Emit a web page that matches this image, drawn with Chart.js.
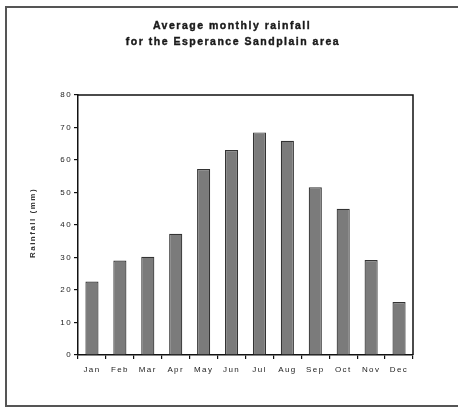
<!DOCTYPE html>
<html><head><meta charset="utf-8">
<script src="https://cdn.jsdelivr.net/npm/chart.js@4"></script>
<style>html,body{margin:0;padding:0;background:#fff;}canvas{display:block;}</style>
</head><body>
<canvas id="c" width="458" height="408"></canvas>
<script>
const months = ["Jan","Feb","Mar","Apr","May","Jun","Jul","Aug","Sep","Oct","Nov","Dec"];
const rainfall = [22.6, 29.1, 30.2, 37.3, 57.2, 63.1, 68.5, 65.9, 51.6, 45.0, 29.2, 16.3];
const titleLines = ["Average monthly rainfall", "for the Esperance Sandplain area"];
const yTitle = "Rainfall (mm)";
const yMin = 0, yMax = 80, yStep = 10;

const decor = {
  id: 'decor',
  beforeDraw(chart) {
    const ctx = chart.ctx;
    ctx.save();
    ctx.fillStyle = '#fff';
    ctx.fillRect(0, 0, chart.width, chart.height);
    ctx.strokeStyle = '#555';
    ctx.lineWidth = 2;
    ctx.beginPath();
    ctx.moveTo(470, 7); ctx.lineTo(6, 7); ctx.lineTo(6, 406); ctx.lineTo(470, 406);
    ctx.stroke();
    ctx.fillStyle = '#1a1a1a';
    ctx.strokeStyle = '#1a1a1a';
    ctx.lineWidth = 0.4;
    ctx.textAlign = 'center';
    ctx.textBaseline = 'middle';
    ctx.font = 'bold 10.5px "Liberation Sans", Arial, sans-serif';
    ctx.letterSpacing = '1.5px';
    ctx.fillText(titleLines[0], 232, 26.5);
    ctx.strokeText(titleLines[0], 232, 26.5);
    ctx.fillText(titleLines[1], 233, 42);
    ctx.strokeText(titleLines[1], 233, 42);
    ctx.translate(32.5, 223);
    ctx.rotate(-Math.PI / 2);
    ctx.font = 'bold 8px "Liberation Sans", Arial, sans-serif';
    ctx.fillStyle = '#333';
    ctx.fillText(yTitle, 0, 0);
    ctx.restore();
    ctx.letterSpacing = '1.4px';
  },
  afterDatasetsDraw(chart) {
    const a = chart.chartArea, ctx = chart.ctx;
    ctx.save();
    ctx.strokeStyle = '#111';
    ctx.lineWidth = 1.5;
    ctx.beginPath();
    ctx.moveTo(a.left, a.top); ctx.lineTo(a.right, a.top); ctx.lineTo(a.right, a.bottom);
    ctx.stroke();
    ctx.restore();
  }
};

const tickFont = { family: '"Liberation Sans", Arial, sans-serif', size: 8 };

new Chart(document.getElementById('c'), {
  type: 'bar',
  data: {
    labels: months,
    datasets: [{
      data: rainfall,
      backgroundColor: '#7b7b7b',
      borderColor: '#333333',
      borderWidth: 1.2,
      barPercentage: 0.94,
      categoryPercentage: 0.5
    }]
  },
  options: {
    responsive: false,
    animation: false,
    devicePixelRatio: 1,
    layout: { padding: { left: 0, right: 45, top: 95, bottom: 27 } },
    plugins: { legend: { display: false }, title: { display: false }, tooltip: { enabled: false } },
    scales: {
      x: {
        grid: { offset: true, drawOnChartArea: false, drawTicks: true, tickLength: 4, color: '#111', lineWidth: 1.2 },
        border: { display: true, color: '#111', width: 1.5 },
        ticks: { color: '#222', font: tickFont, padding: 6, maxRotation: 0, autoSkip: false },
        afterFit(s) { s.height = 26; }
      },
      y: {
        min: yMin, max: yMax,
        grid: { drawOnChartArea: false, drawTicks: true, tickLength: 4, color: '#111', lineWidth: 1.2 },
        border: { display: true, color: '#111', width: 1.5 },
        ticks: { stepSize: yStep, color: '#222', font: tickFont, padding: 2 },
        afterFit(s) { s.width = 78; }
      }
    }
  },
  plugins: [decor]
});
</script>
</body></html>
